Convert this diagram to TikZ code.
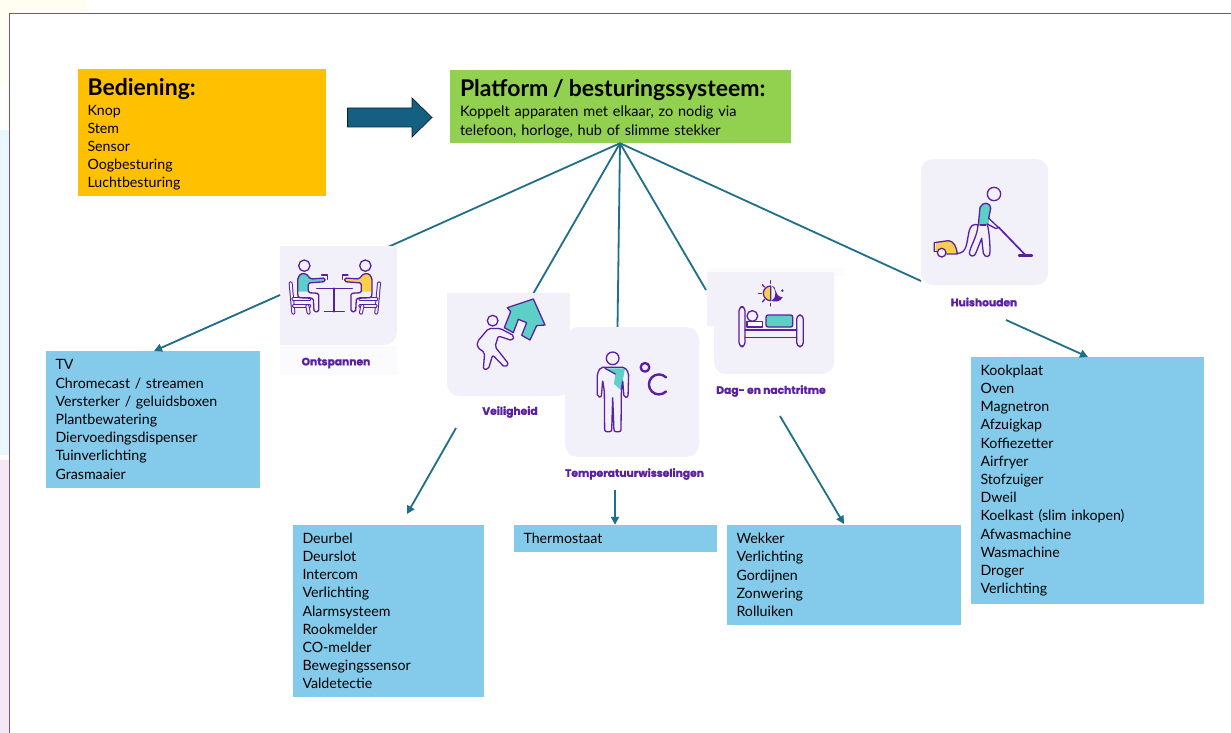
\documentclass[tikz,border=0pt]{standalone}
\usepackage{fontspec}
\setmainfont{Lato}
\newfontfamily\labelfont[BoldFeatures={FakeBold=1.4}]{Poppins}
\usetikzlibrary{arrows.meta}
\definecolor{ylw}{HTML}{FFC000}
\definecolor{grn}{HTML}{92D050}
\definecolor{lst}{HTML}{83CAEB}
\definecolor{conn}{HTML}{1F6F8B}
\definecolor{blk}{HTML}{156082}
\definecolor{tile}{HTML}{F2F0F9}
\definecolor{pur}{HTML}{5A1FA3}
\definecolor{teal2}{HTML}{5CCFC6}
\definecolor{gold}{HTML}{F7CF4A}
\definecolor{framec}{HTML}{7650AE}
\tikzset{
  every node/.style={text=black},
  listbox/.style={fill=lst,inner xsep=9.5pt,inner ysep=0pt,align=left,anchor=center,
     font=\fontsize{14.2}{18.2}\selectfont},
  topbox/.style={inner xsep=9.5pt,inner ysep=0pt,align=left,anchor=center,
     font=\fontsize{14.2}{18.2}\selectfont},
  tilelabel/.style={text=pur,font=\labelfont\bfseries\fontsize{10.7}{12}\selectfont,inner sep=0pt},
  link/.style={draw=conn,line width=1.8pt},
  arr/.style={link,-{Triangle[length=8pt,width=8pt]}},
  ico/.style={draw=pur,line width=1.3pt,line join=round,line cap=round},
  limb/.style={draw=pur,line width=1pt,double=tile,double distance=2pt,line join=round,line cap=round},
  zoomA/.style={shift={(270,230)},scale=0.33333},
  zoomB/.style={shift={(560,260)},scale=0.33333},
  zoomC/.style={shift={(900,150)},scale=0.33333},
}
\newcommand{\sitter}[1]{%
  % chair
  \draw[limb] (62,160) -- (70,248);
  \draw[limb] (70,207) -- (118,207);
  \draw[limb] (72,228) -- (118,228);
  \draw[limb] (112,228) -- (116,248);
  % body
  \fill[#1] (83,185) -- (83,145) -- (92,131) -- (108,131) -- (122,147) -- (165,144) -- (165,155) -- (115,159) -- (113,185) -- cycle;
  \draw[ico,rounded corners=1.5pt] (83,192) -- (83,145) -- (92,131) -- (108,131) -- (122,147) -- (165,144) -- (165,155) -- (115,159) -- (115,188) -- (146,190) -- (146,245) -- (132,245) -- (130,205) -- (85,203) -- cycle;
  \draw[ico,fill=tile] (103,107) circle (17);
  \draw[ico] (155,135) -- (172,135) -- (172,148);
}
\begin{document}
\begin{tikzpicture}[x=1pt,y=-1pt]
\useasboundingbox (0,0) rectangle (1231,733);
% page background
\fill[white] (0,0) rectangle (1231,733);
\fill[yellow!6] (0,0) rectangle (87,13);
\fill[yellow!6] (0,13) rectangle (9,82);
\fill[cyan!9] (0,130) rectangle (9,455);
\fill[violet!9] (0,460) rectangle (9,733);
\draw[framec,line width=1.2pt] (1231,13.5) -- (9.5,13.5) -- (9.5,733);
% top boxes
\node[topbox,fill=ylw,minimum width=248pt,minimum height=127pt,text width=229pt] (bed) at (202,132.5)
  {\rule{0pt}{21pt}{\fontsize{23}{24}\selectfont\bfseries Bediening:}\\[1.5pt]Knop\\Stem\\Sensor\\Oogbesturing\\Luchtbesturing};
\node[topbox,fill=grn,minimum width=340pt,minimum height=73pt,text width=320pt,font=\fontsize{14.5}{18.5}\selectfont,inner xsep=10.5pt] (plat) at (620,106.5)
  {\rule{0pt}{21pt}{\fontsize{23}{24}\selectfont\bfseries Platform / besturingssysteem:}\\[2pt]Koppelt apparaten met elkaar, zo nodig via\\telefoon, horloge, hub of slimme stekker};
\fill[blk] (347.5,108) -- (412,108) -- (412,98) -- (432,117.5) -- (412,137) -- (412,127) -- (347.5,127) -- cycle;
\draw[black!65!blk,line width=0.7pt] (347.5,108) -- (412,108) -- (412,98) -- (432,117.5) -- (412,137) -- (412,127) -- (347.5,127) -- cycle;
% tiles
\coordinate (endO) at (388,247);
\coordinate (endV) at (533,294);
\coordinate (endT) at (617.5,328);
\coordinate (endD) at (706,290);
\coordinate (endH) at (921,281);
\draw[link] (plat.south) -- (endO);
\draw[link] (plat.south) -- (endV);
\draw[link] (plat.south) -- (endT);
\draw[link] (plat.south) -- (endD);
\draw[link] (plat.south) -- (endH);
\fill[tile!30] (280,346) rectangle (397,375);
\fill[tile!30] (707,268) rectangle (844,276);
\fill[tile] (280,246) -- (397,246) -- (397,332) arc[start angle=0,end angle=90,radius=13] -- (280,345) -- cycle;
\fill[tile] (447,293) -- (570,293) -- (570,384) arc[start angle=0,end angle=90,radius=12] -- (459,396) arc[start angle=90,end angle=180,radius=12] -- cycle;
\fill[white] (697,325) rectangle (714,445);
\fill[tile,rounded corners=13pt] (565,327) rectangle (699,457);
\fill[tile] (707,272) -- (834,272) -- (834,362) arc[start angle=0,end angle=90,radius=12] -- (726,374) arc[start angle=90,end angle=180,radius=12] -- (714,326) -- (707,326) -- cycle;
\fill[tile,rounded corners=12pt] (921,159) rectangle (1048,285);
\node[tilelabel] (lblO) at (336,363) {Ontspannen};
\node[tilelabel] (lblV) at (510,412) {Veiligheid};
\node[tilelabel] (lblT) at (634.5,474) {Temperatuurwisselingen};
\node[tilelabel] (lblD) at (771,391) {Dag- en nachtritme};
\node[tilelabel] (lblH) at (984,302) {Huishouden};
% icon: Ontspannen
\begin{scope}[zoomA]
  \sitter{teal2}
  \begin{scope}[shift={(389,0)},xscale=-1]\sitter{gold}\end{scope}
  \draw[ico] (140,175) -- (247,175);
  \draw[ico,line width=1.7pt] (193,175) -- (193,245);
  \draw[ico] (163,245) -- (223,245);
\end{scope}
% icon: Veiligheid
\begin{scope}[zoomA]
  \draw[ico,fill=teal2] (712,233) -- (790,207) -- (825,285) -- (800,287) -- (780,330) -- (755,316) -- (770,278) -- (745,268) -- (730,308) -- (703,293) -- (722,245) -- cycle;
  \draw[ico,fill=tile,rounded corners=2pt] (655,296) -- (690,295) -- (733,318) -- (727,332) -- (685,318) -- (675,350) -- (716,402) -- (704,412) -- (668,375) -- (655,418) -- (640,418) -- (644,368) -- (622,352) -- (622,335) -- cycle;
  \draw[ico,fill=tile] (668,272) circle (16);
\end{scope}
% icon: Temperatuurwisselingen
\begin{scope}[zoomB]
  \draw[ico,fill=tile] (158,295) circle (19);
  \fill[teal2] (135,325) -- (195,325) -- (183,390) -- (162,372) -- (166,342) -- cycle;
  \draw[ico,rounded corners=2pt] (112,340) -- (122,322) -- (195,322) -- (206,340) -- (204,412) -- (192,412) -- (188,360) -- (184,395) -- (183,515) -- (162,515) -- (158,410) -- (155,515) -- (134,515) -- (133,395) -- (128,360) -- (124,412) -- (112,410) -- cycle;
  \draw[ico] (166,342) -- (135,325);
  \draw[ico,line width=2.3pt] (255,322) circle (13);
  \draw[ico,line width=2.4pt] (318,352) arc[start angle=-45,end angle=-315,radius=30];
\end{scope}
% icon: Dag- en nachtritme
\begin{scope}[zoomB]
  \draw[ico,rounded corners=4pt] (537,260) -- (537,140) -- (555,140) -- (555,260) -- cycle;
  \draw[ico,rounded corners=4pt] (710,260) -- (710,165) -- (730,165) -- (730,260) -- cycle;
  \draw[ico] (555,210) -- (710,210);
  \draw[ico] (555,232) -- (710,232);
  \draw[ico,fill=white] (561,185) rectangle (608,201);
  \draw[ico,fill=tile] (577,168) circle (16);
  \draw[ico,fill=teal2,rounded corners=2pt] (618,165) -- (698,165) -- (698,201) -- (618,201) -- cycle;
  \draw[ico,fill=gold] (632,78) arc[start angle=270,end angle=90,radius=22] -- cycle;
  \fill[pur] (636,78) .. controls (650,74) and (640,110) .. (668,112) .. controls (660,128) and (640,126) .. (634,122) .. controls (652,112) and (648,88) .. (636,78) -- cycle;
  \draw[ico] (595,100) -- (604,100);
  \draw[ico] (607,74) -- (613,81);
  \draw[ico] (632,62) -- (632,70);
  \draw[ico] (632,130) -- (632,138);
  \draw[ico] (607,126) -- (613,119);
  \fill[pur] (667,92) circle (4);
\end{scope}
% icon: Huishouden
\begin{scope}[zoomC]
  \draw[ico,fill=tile] (282,132) circle (20);
  \fill[teal2] (235,225) -- (240,172) .. controls (248,155) and (270,155) .. (272,175) -- (265,225) -- cycle;
  \draw[ico] (235,225) -- (240,172) .. controls (248,155) and (270,155) .. (272,175) -- (266,205) -- (295,232) -- (288,236) -- (262,222);
  \draw[ico] (234,225) .. controls (232,260) and (210,290) .. (208,310) .. controls (210,322) and (225,320) .. (228,308) -- (245,265) -- (250,310) .. controls (255,325) and (272,322) .. (270,305) .. controls (270,280) and (268,250) .. (262,222);
  \draw[ico] (240,225) -- (258,225);
  \draw[ico] (172,310) .. controls (200,310) and (200,280) .. (205,255) .. controls (210,220) and (225,222) .. (234,225);
  \draw[ico,line width=1.7pt] (296,232) -- (376,315);
  \draw[ico,line width=2.4pt] (357,316) -- (396,316);
  \fill[gold] (108,280) -- (145,272) .. controls (160,272) and (168,290) .. (172,310) -- (115,310) -- (106,300) -- cycle;
  \draw[ico] (103,305) -- (103,278) -- (145,272) .. controls (160,272) and (170,290) .. (172,312) -- (140,312);
  \draw[ico] (103,305) -- (112,305);
  \draw[ico,fill=tile] (125,308) circle (13);
\end{scope}
% lists
\node[listbox,minimum width=214pt,minimum height=137pt,text width=195pt] (lTV) at (153,419.5)
  {TV\\Chromecast / streamen\\Versterker / geluidsboxen\\Plantbewatering\\Diervoedingsdispenser\\Tuinverlichting\\Grasmaaier};
\node[listbox,minimum width=191pt,minimum height=172pt,text width=172pt] (lV) at (388.5,611)
  {Deurbel\\Deurslot\\Intercom\\Verlichting\\Alarmsysteem\\Rookmelder\\CO-melder\\Bewegingssensor\\Valdetectie};
\node[listbox,minimum width=203pt,minimum height=27pt,text width=184pt] (lT) at (615.5,538.5) {Thermostaat};
\node[listbox,minimum width=234pt,minimum height=100pt,text width=215pt] (lD) at (844,575)
  {Wekker\\Verlichting\\Gordijnen\\Zonwering\\Rolluiken};
\node[listbox,minimum width=233pt,minimum height=247pt,text width=214pt] (lH) at (1087.5,480.5)
  {Kookplaat\\Oven\\Magnetron\\Afzuigkap\\Koffiezetter\\Airfryer\\Stofzuiger\\Dweil\\Koelkast (slim inkopen)\\Afwasmachine\\Wasmachine\\Droger\\Verlichting};
% arrows
\coordinate (fromO) at (280,295);
\coordinate (toO) at (154,351);
\coordinate (fromV) at (456,428);
\coordinate (toV) at (407,514);
\coordinate (fromT) at (615,490);
\coordinate (fromD) at (780,416);
\coordinate (toD) at (844,524);
\coordinate (fromH) at (1006,320);
\coordinate (toH) at (1088,357);
\draw[arr] (fromO) -- (toO);
\draw[arr] (fromV) -- (toV);
\draw[arr] (fromT) -- (fromT |- lT.north);
\draw[arr] (fromD) -- (toD);
\draw[arr] (fromH) -- (toH);
\end{tikzpicture}
\end{document}
